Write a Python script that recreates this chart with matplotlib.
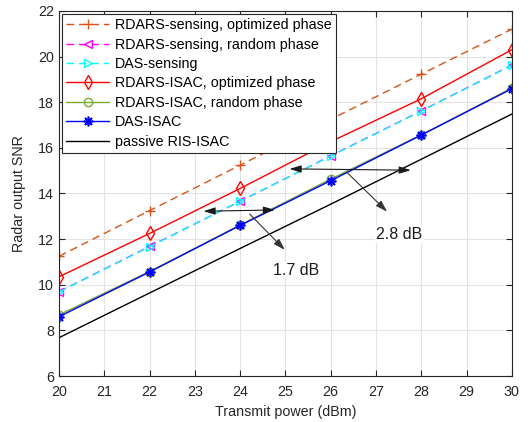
import numpy as np
import matplotlib
matplotlib.use("Agg")
import matplotlib.pyplot as plt

plt.rcParams['font.family'] = ['Liberation Sans', 'DejaVu Sans']
plt.rcParams['font.size'] = 10.3

# transmit power (dBm)
power = np.array([20, 22, 24, 26, 28, 30])

# radar output SNR for each scheme
snr_rdars_sens_opt = [11.25, 13.25, 15.24, 17.25, 19.23, 21.2]
snr_rdars_sens_rand = [9.70, 11.68, 13.66, 15.65, 17.62, 19.63]
snr_das_sens = [9.69, 11.67, 13.67, 15.64, 17.61, 19.62]
snr_rdars_isac_opt = [10.35, 12.25, 14.22, 16.27, 18.15, 20.3]
snr_rdars_isac_rand = [8.68, 10.58, 12.62, 14.63, 16.57, 18.62]
snr_das_isac = [8.60, 10.56, 12.60, 14.56, 16.56, 18.59]
snr_passive_ris = [7.68, 9.64, 11.59, 13.53, 15.50, 17.48]

labels = ['RDARS-sensing, optimized phase',
          'RDARS-sensing, random phase',
          'DAS-sensing',
          'RDARS-ISAC, optimized phase',
          'RDARS-ISAC, random phase',
          'DAS-ISAC',
          'passive RIS-ISAC']

fig = plt.figure(figsize=(5.32, 4.22), dpi=100)
ax = fig.add_axes([0.111, 0.109, 0.851, 0.865])

ms = 7
dash = (5.5, 3.5)
asterisk = (8, 2, 0)
ax.plot(power, snr_rdars_sens_opt, '--+', color='#D95319', lw=1.0, ms=ms, dashes=dash, label=labels[0])
ax.plot(power, snr_rdars_sens_rand, '--<', color='#FF00FF', lw=1.0, ms=ms - 1, mfc='none', dashes=dash, label=labels[1])
ax.plot(power, snr_das_sens, '-->', color='#00FFFF', lw=1.0, ms=ms - 1, mfc='none', dashes=dash, label=labels[2])
ax.plot(power, snr_rdars_isac_opt, '-d', color='#FF0000', lw=1.0, ms=ms + 0.5, mfc='none', label=labels[3])
ax.plot(power, snr_rdars_isac_rand, '-o', color='#77AC30', lw=1.0, ms=ms - 1, mfc='none', label=labels[4])
ax.plot(power, snr_das_isac, '-', marker=asterisk, color='#0000FF', lw=1.0, ms=ms, mew=1.2, label=labels[5])
ax.plot(power, snr_passive_ris, '-', color='black', lw=1.0, label=labels[6])

ax.set_xlim(20, 30)
ax.set_ylim(6, 22)
ax.set_xticks(np.arange(20, 31, 1))
ax.set_yticks(np.arange(6, 23, 2))
ax.grid(True, color='#e3e3e3', lw=0.8)
ax.set_axisbelow(True)
ax.tick_params(direction='in', top=True, right=True, colors='#262626', length=4)
ax.tick_params(axis='x', pad=6.5)
for sp in ax.spines.values():
    sp.set_color('#262626')
ax.set_xlabel('Transmit power (dBm)', color='#262626', labelpad=4)
ax.set_ylabel('Radar output SNR', color='#262626', labelpad=9)

leg = ax.legend(loc='upper left', handlelength=3.0, borderaxespad=0.2,
                labelspacing=0.38, borderpad=0.3, handletextpad=0.4,
                fancybox=False, framealpha=1, edgecolor='#262626')
leg.get_frame().set_linewidth(0.8)

# gap annotations
arr = dict(arrowstyle='<|-|>,head_length=0.7,head_width=0.22', color='#1a1a1a', lw=0.8, mutation_scale=10)
ax.annotate('', xy=(23.13, 13.22), xytext=(24.83, 13.28), arrowprops=arr)
ax.annotate('', xy=(25.03, 15.08), xytext=(27.83, 15.02), arrowprops=arr)

ptr = dict(arrowstyle='-|>,head_length=0.7,head_width=0.22', color='#333333', lw=0.8, mutation_scale=10)
ax.annotate('', xy=(25.03, 11.44), xytext=(24.17, 13.18), arrowprops=ptr)
ax.annotate('', xy=(27.29, 13.12), xytext=(26.31, 15.02), arrowprops=ptr)

box = dict(facecolor='white', edgecolor='none', pad=1)
ax.text(25.24, 10.64, '1.7 dB', ha='center', va='center', fontsize=11.5, color='#1a1a1a', bbox=box)
ax.text(27.52, 12.2, '2.8 dB', ha='center', va='center', fontsize=11.5, color='#1a1a1a', bbox=box)

fig.savefig('out.png', dpi=100)
